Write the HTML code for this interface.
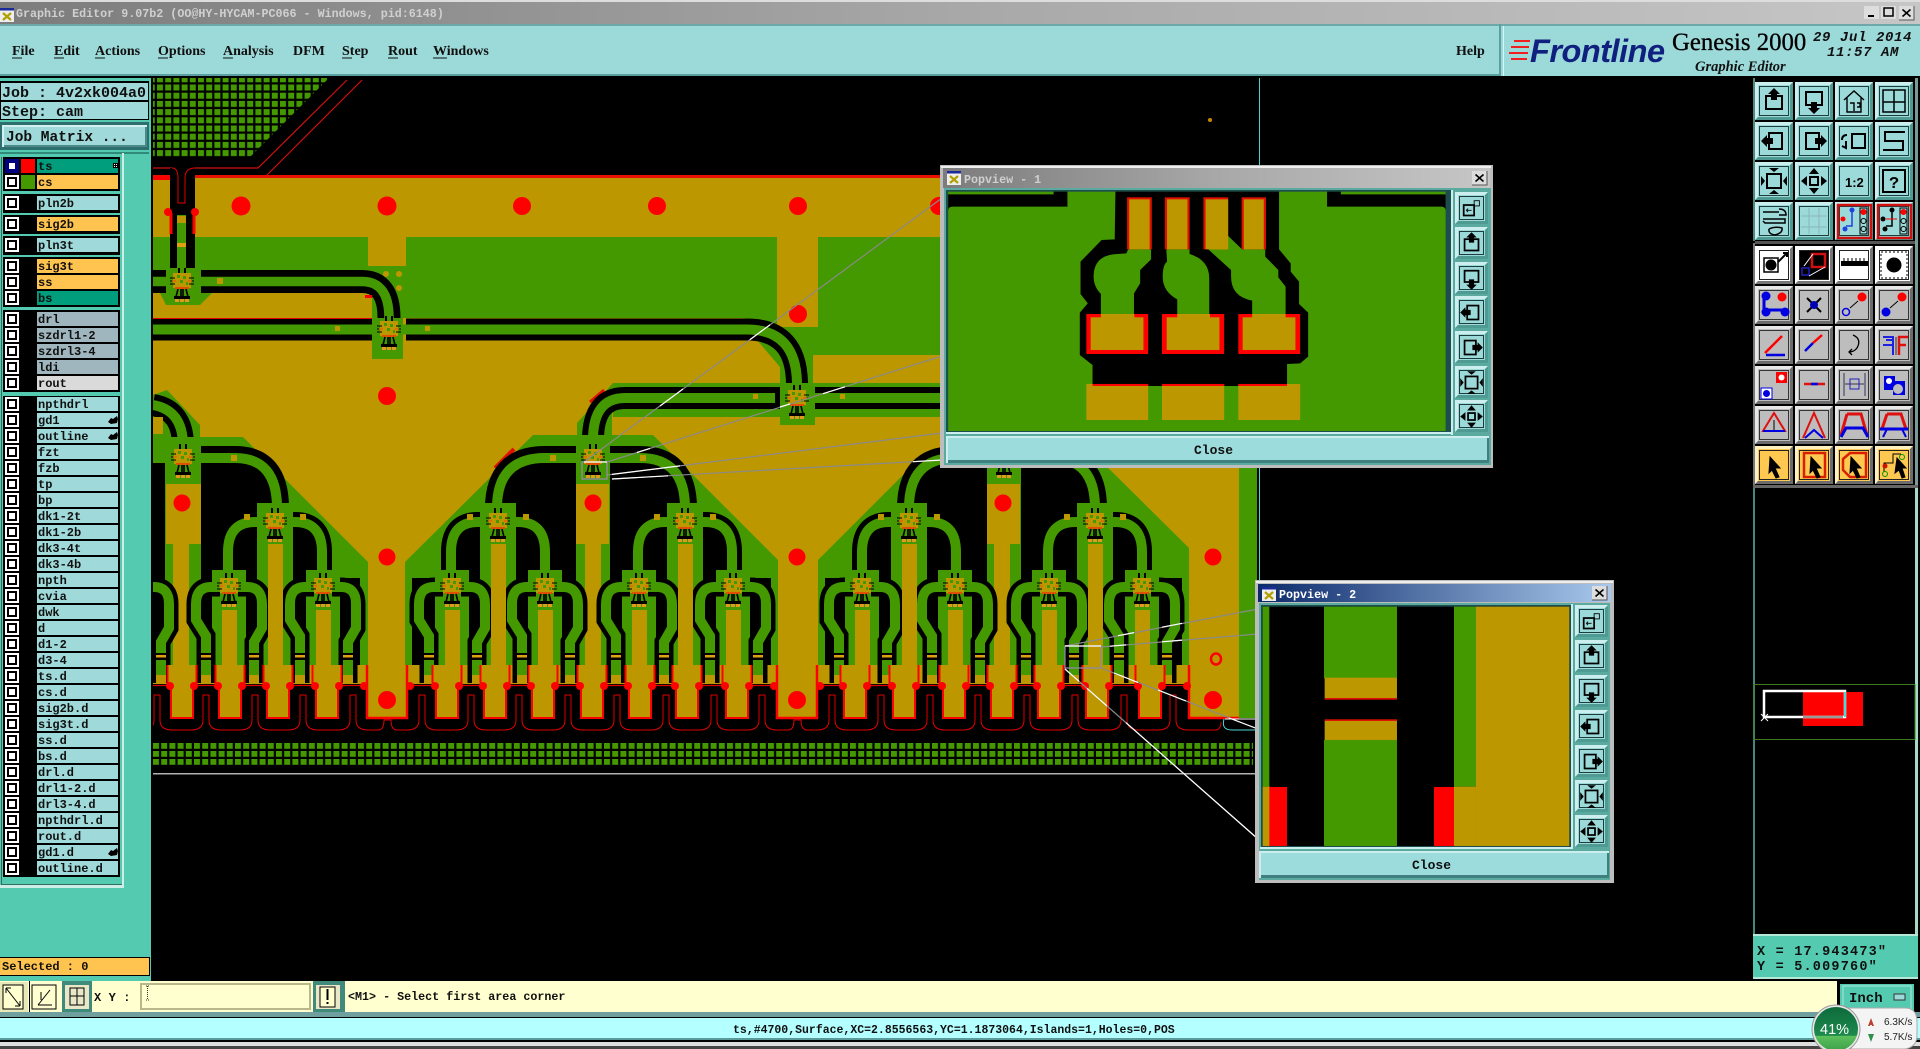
<!DOCTYPE html>
<html><head><meta charset="utf-8"><title>Genesis 2000 Graphic Editor</title>
<style>
html,body{margin:0;padding:0;background:#000;width:1920px;height:1049px;overflow:hidden}
svg{display:block}
.m{font:bold 12px "Liberation Mono",monospace;fill:#101010}
.j{font:bold 15px "Liberation Mono",monospace;fill:#101010}
.s{font:bold 14px "Liberation Serif",serif;fill:#101010}
</style></head><body>
<svg width="1920" height="1049" viewBox="0 0 1920 1049">
<defs>
<pattern id="gp" patternUnits="userSpaceOnUse" x="157" y="84.5" width="8.2" height="8.2"><rect width="6" height="6" fill="#449900"/></pattern>
<pattern id="gq" patternUnits="userSpaceOnUse" x="153" y="743" width="8.2" height="8"><rect width="6" height="5.800" fill="#449900"/></pattern>
<clipPath id="bc"><rect x="153" y="78" width="1106" height="702"/></clipPath>
<linearGradient id="t1" x1="0" x2="1" y1="0" y2="0"><stop offset="0" stop-color="#7c7c7c"/><stop offset=".5" stop-color="#a8a8a8"/><stop offset="1" stop-color="#c6c6c6"/></linearGradient>
<linearGradient id="t2" x1="0" x2="1" y1="0" y2="0"><stop offset="0" stop-color="#0c2a6a"/><stop offset="1" stop-color="#a8c8ec"/></linearGradient>
<linearGradient id="wg" x1="0" x2="0" y1="0" y2="1"><stop offset="0" stop-color="#0e6a3c"/><stop offset=".65" stop-color="#1d8a4c"/><stop offset=".66" stop-color="#5cc05c"/><stop offset="1" stop-color="#3ca04a"/></linearGradient>
<g id="cb"><rect x="5" y="-7" width="14" height="14" fill="#fff"/><rect x="7" y="-5" width="10" height="10" fill="#000"/><rect x="9" y="-3" width="6" height="6" fill="#fff"/></g>
<g id="rL"><use href="#cb"/><rect x="37" y="-7" width="81" height="14" fill="#9fd9d9"/></g>
<g id="rO"><use href="#cb"/><rect x="37" y="-7" width="81" height="14" fill="#ffc44f"/></g>
<g id="rD"><use href="#cb"/><rect x="37" y="-7" width="81" height="14" fill="#009e7c"/></g>
<g id="rG"><use href="#cb"/><rect x="37" y="-7" width="81" height="14" fill="#a0b6be"/></g>
<g id="rW"><use href="#cb"/><rect x="37" y="-7" width="81" height="14" fill="#dadada"/></g>
<path id="hand" d="M0 6 L3 2 L5 3 L9 0 L10 3 L9 7 L3 8Z" fill="#000"/>
<g id="c">
<rect x="-9" y="-9" width="18" height="15" fill="#bd9700"/>
<rect x="-5" y="-7" width="3" height="3" fill="#449900"/><rect x="1" y="-6" width="3" height="3" fill="#449900"/><rect x="-2" y="-2" width="3" height="3" fill="#449900"/><rect x="4" y="0" width="2" height="3" fill="#449900"/>
<path d="M-3-14V-9M3-14V-9" stroke="#000" stroke-width="2"/>
<path d="M-12-4H-7M-12-1H-7M-12 2H-7M7-4H12M7-1H12M7 2H12" stroke="#000" stroke-width="1"/>
<path d="M-10-1H-6M6-1H10" stroke="#ff4a00" stroke-width="1"/>
<rect x="-7" y="5" width="14" height="2" fill="#e05000"/>
<path d="M-6 15L-4 7M-1 15V7M1 15V7M6 15L4 7M-6 16H6" stroke="#000" stroke-width="1.6" fill="none"/>
<rect x="-8" y="14" width="16" height="3" fill="#000"/>
<rect x="-7" y="17" width="4" height="3" fill="#e09a20"/><rect x="-2" y="17" width="4" height="3" fill="#e09a20"/><rect x="3" y="17" width="4" height="3" fill="#e09a20"/>
</g>
<g id="T3">
<rect x="-17" y="570" width="34" height="95" fill="#449900"/>
<path d="M-9 587H-18Q-33 587-33 604V620L-23 636V683M9 587H18Q33 587 33 604V628L25 642V683" fill="none" stroke="#000" stroke-width="19"/>
<path d="M-9 587H-18Q-33 587-33 604V620L-23 636V683M9 587H18Q33 587 33 604V628L25 642V683" fill="none" stroke="#449900" stroke-width="10"/>
<path d="M-28 653h10v7h-10zM20 653h10v7h-10z" fill="#000"/><path d="M-28 655h10v2.500h-10zM20 655h10v2.500h-10z" fill="#e0a010"/>
<path d="M-28 675h10v8h-10zM20 675h10v8h-10z" fill="#bd9700"/>
<rect x="-17" y="570" width="34" height="14" fill="#449900"/>
<use href="#c" y="587"/>
</g>
<g id="T2">
<path d="M-15 522H-20Q-47 522-47 552V578H-15ZM15 522H20Q47 522 47 552V578H15Z" fill="#000" stroke="#000" stroke-width="20"/>
<rect x="-18" y="503" width="36" height="162" fill="#449900"/>
<path d="M-12 522H-20Q-47 522-47 552V578M12 522H20Q47 522 47 552V578" fill="none" stroke="#449900" stroke-width="10"/>
<rect x="-31" y="514" width="6" height="6" fill="#bd9700"/><rect x="25" y="514" width="6" height="6" fill="#bd9700"/>
<use href="#c" y="522"/>
</g>
<g id="tr">
<path d="M-14.500 665H14.500V686H11V717H-11V686H-14.500Z" fill="#bd9700"/>
<path d="M-14.500 665V686H-11V718H11V686H14.500V665" fill="none" stroke="#f00" stroke-width="2"/>
<circle cx="-12" cy="686" r="4" fill="#f00"/><circle cx="12" cy="686" r="4" fill="#f00"/>
</g>
<g id="vt">
<path d="M-20 665H20V718H-20Z" fill="#bd9700"/>
<path d="M-20 665V718H20V665" fill="none" stroke="#f00" stroke-width="2.500"/>
<circle cx="-23" cy="686" r="4" fill="#f00"/><circle cx="23" cy="686" r="4" fill="#f00"/>
<circle cy="700" r="9" fill="#f00"/><circle cy="557" r="8.500" fill="#f00"/>
</g>
<g id="u"><rect x="-14" y="726" width="28" height="6" fill="#000"/><path d="M-15 730Q-3 730-3 720V695H3V720Q3 730 15 730" fill="none" stroke="#e00000" stroke-width="1"/></g>
<g id="bT"><rect width="38" height="38" fill="#4f9a92"/><path d="M0 0H38L35 3H3V35L0 38Z" fill="#cdeeee"/><rect x="3" y="3" width="32" height="32" fill="#9cd9d9"/><rect x="4.500" y="4.500" width="29" height="29" fill="none" stroke="#1d3d3d" stroke-width="1"/></g>
<g id="bG"><rect width="38" height="38" fill="#6c6c6c"/><path d="M0 0H38L35 3H3V35L0 38Z" fill="#e8e8e8"/><rect x="3" y="3" width="32" height="32" fill="#bdbdbd"/><rect x="4.500" y="4.500" width="29" height="29" fill="none" stroke="#333" stroke-width="1"/></g>
<g id="bW"><rect width="38" height="38" fill="#777"/><path d="M0 0H38L35 3H3V35L0 38Z" fill="#fff"/><rect x="3" y="3" width="32" height="32" fill="#fff"/><rect x="4.500" y="4.500" width="29" height="29" fill="none" stroke="#222" stroke-width="1"/></g>
<g id="bO"><rect width="38" height="38" fill="#6c6c6c"/><path d="M0 0H38L35 3H3V35L0 38Z" fill="#fff0c0"/><rect x="3" y="3" width="32" height="32" fill="#ffc850"/><rect x="4.500" y="4.500" width="29" height="29" fill="none" stroke="#222" stroke-width="1"/></g>
<g id="iU"><rect x="11" y="14" width="16" height="13" fill="none" stroke="#000" stroke-width="2"/><path d="M19 6L25 12H22V18H16V12H13Z"/></g>
<g id="iD"><rect x="11" y="10" width="16" height="13" fill="none" stroke="#000" stroke-width="2"/><path d="M19 32L13 26H16V20H22V26H25Z"/></g>
<g id="iL"><rect x="14" y="11" width="13" height="16" fill="none" stroke="#000" stroke-width="2"/><path d="M6 19L12 13V16H18V22H12V25Z"/></g>
<g id="iR"><rect x="11" y="11" width="13" height="16" fill="none" stroke="#000" stroke-width="2"/><path d="M32 19L26 13V16H20V22H26V25Z"/></g>
<g id="iF"><rect x="12" y="12" width="14" height="14" fill="none" stroke="#000" stroke-width="2"/><path d="M19 10L14 6H24ZM19 28L14 32H24ZM10 19L6 14V24ZM28 19L32 14V24Z"/></g>
<g id="iP"><rect x="15" y="15" width="8" height="8" fill="none" stroke="#000" stroke-width="2"/><path d="M19 6L14 12H24ZM19 32L14 26H24ZM6 19L12 14V24ZM32 19L26 14V24Z"/></g>
<g id="iX"><rect x="10" y="15" width="12" height="12" fill="none" stroke="#000" stroke-width="2"/><rect x="22" y="10" width="6" height="6" fill="none" stroke="#000"/><path d="M13 21H19M13 21L15 19M13 21L15 23" stroke="#000" fill="none"/></g>
<g id="pb"><rect width="33" height="32" fill="#4f9a92"/><path d="M0 0H33L30 3H3V29L0 32Z" fill="#cdeeee"/><rect x="3" y="3" width="27" height="26" fill="#9cd9d9"/><rect x="4.500" y="4.500" width="24" height="23" fill="none" stroke="#1d3d3d"/></g>
<g id="xb"><rect width="15" height="14" fill="#ddd"/><path d="M15 0V14H0" fill="none" stroke="#555"/><path d="M3.500 3.500L11.500 10.500M11.500 3.500L3.500 10.500" stroke="#000" stroke-width="1.600"/></g>
<g id="wi"><rect width="14" height="14" fill="#eee"/><rect width="14" height="2.500" fill="#1a2a9a"/><path d="M3 5L11 12M11 5L3 12" stroke="#b0a000" stroke-width="2.200"/></g>
</defs>

<!-- window chrome -->
<rect width="1920" height="1049" fill="#000"/>
<rect width="1920" height="2" fill="#ddd"/>
<rect y="2" width="1920" height="22" fill="url(#t1)"/>
<use href="#wi" x="0" y="8"/>
<text x="16" y="17" style="font:bold 11.700px 'Liberation Mono',monospace" fill="#d0d0d0">Graphic Editor 9.07b2 (OO@HY-HYCAM-PC066 - Windows, pid:6148)</text>
<rect x="1864" y="6" width="15" height="13" fill="#ddd"/><rect x="1868" y="15" width="6" height="2" fill="#000"/>
<rect x="1881" y="6" width="15" height="13" fill="#ddd"/><rect x="1884" y="8" width="9" height="8" fill="none" stroke="#000" stroke-width="1.500"/>
<use href="#xb" x="1899" y="6"/>
<rect y="24" width="1920" height="2" fill="#6fa8a8"/>
<rect y="26" width="1920" height="50" fill="#9cd9d9"/>
<rect y="74" width="1500" height="2" fill="#5aa0a0"/>
<rect x="1499" y="24" width="2" height="52" fill="#5aa0a0"/><rect x="1503" y="26" width="1" height="52" fill="#d8f4f4"/>
<rect y="76" width="1920" height="2" fill="#000"/>
<g>
<text class="s" x="12" y="55">File</text><text class="s" x="54" y="55">Edit</text><text class="s" x="95" y="55">Actions</text><text class="s" x="158" y="55">Options</text><text class="s" x="223" y="55">Analysis</text><text class="s" x="293" y="55">DFM</text><text class="s" x="342" y="55">Step</text><text class="s" x="388" y="55">Rout</text><text class="s" x="433" y="55">Windows</text><text class="s" x="1456" y="55">Help</text>
</g>
<path d="M12 58h10M54 58h10M95 58h10M158 58h10M223 58h10M342 58h10M388 58h10M433 58h14" stroke="#111" stroke-width="1"/>
<!-- logo -->
<path d="M1514 41H1530M1511 47H1529M1509 53H1528M1511 59H1527" stroke="#f02020" stroke-width="2"/>
<text x="1530" y="62" style="font:italic bold 32.500px 'Liberation Sans',sans-serif;letter-spacing:-.5px" fill="#10207e">Frontline</text>
<text x="1672" y="50" style="font:24.800px 'Liberation Serif',serif;stroke:#000;stroke-width:.3px" fill="#000">Genesis 2000</text>
<text x="1695" y="71" style="font:italic bold 14.500px 'Liberation Serif',serif" fill="#111">Graphic Editor</text>
<text x="1813" y="41" style="font:italic bold 14px 'Liberation Mono',monospace;letter-spacing:.6px" fill="#111">29 Jul 2014</text>
<text x="1827" y="56" style="font:italic bold 14px 'Liberation Mono',monospace;letter-spacing:.6px" fill="#111">11:57 AM</text>

<!-- left panel -->
<rect x="0" y="78" width="151" height="903" fill="#54cbb0"/>
<rect x="151" y="78" width="2" height="904" fill="#000"/>
<rect x="0" y="81" width="149" height="20" fill="#000"/><rect x="1" y="83" width="147" height="17" fill="#9fd9d9"/>
<rect x="0" y="101" width="149" height="19" fill="#000"/><rect x="1" y="102" width="147" height="17" fill="#9fd9d9"/>
<text class="j" x="2" y="97">Job : 4v2xk004a0</text><text class="j" x="2" y="116">Step: cam</text>
<rect x="0" y="122" width="149" height="28" fill="#2d6f6f"/><rect x="2" y="125" width="145" height="22" fill="#d4f0f0"/><rect x="4" y="127" width="141" height="19" fill="#9fd9d9"/><path d="M4 146H146V127" fill="none" stroke="#4c8a8a" stroke-width="2"/>
<text x="6" y="141" style="font:bold 14.500px 'Liberation Mono',monospace" fill="#101010">Job Matrix ...</text>
<path d="M1 152H149V155H124V887H1Z" fill="#54cbb0"/><rect x="0" y="152" width="149" height="2" fill="#2f8a7a"/>
<rect x="122" y="153" width="2" height="734" fill="#cdeee6"/><rect x="0" y="885" width="124" height="3" fill="#cdeee6"/><rect x="1" y="157" width="121" height="727" fill="#54cbb0"/><rect x="1" y="157" width="1" height="727" fill="#2f6f5f"/><rect x="1" y="884" width="121" height="1" fill="#2f6f5f"/>
<g fill="#000"><rect x="3" y="157" width="117" height="34"/><rect x="3" y="194" width="117" height="19"/><rect x="3" y="215" width="117" height="19"/><rect x="3" y="236" width="117" height="19"/><rect x="3" y="257" width="117" height="50"/><rect x="3" y="310" width="117" height="82"/><rect x="3" y="396" width="117" height="481"/></g>
<use href="#rD" y="166"/><rect x="5" y="159" width="14" height="14" fill="#000080"/><rect x="9" y="163" width="6" height="6" fill="#fff"/><rect x="21" y="159" width="14" height="14" fill="#f00"/><text class="m" x="38" y="170">ts</text><rect x="113" y="163" width="5" height="5" fill="#000"/><rect x="114" y="164" width="1" height="1" fill="#fff"/><rect x="116" y="164" width="1" height="1" fill="#fff"/><rect x="114" y="166" width="1" height="1" fill="#fff"/><rect x="116" y="166" width="1" height="1" fill="#fff"/>
<use href="#rO" y="182"/><rect x="21" y="175" width="14" height="14" fill="#449900"/><text class="m" x="38" y="186">cs</text>
<use href="#rL" y="203"/><text class="m" x="38" y="207">pln2b</text>
<use href="#rO" y="224"/><text class="m" x="38" y="228">sig2b</text>
<use href="#rL" y="245"/><text class="m" x="38" y="249">pln3t</text>
<use href="#rO" y="266"/><text class="m" x="38" y="270">sig3t</text>
<use href="#rO" y="282"/><text class="m" x="38" y="286">ss</text>
<use href="#rD" y="298"/><text class="m" x="38" y="302">bs</text>
<use href="#rG" y="319"/><text class="m" x="38" y="323">drl</text>
<use href="#rG" y="335"/><text class="m" x="38" y="339">szdrl1-2</text>
<use href="#rG" y="351"/><text class="m" x="38" y="355">szdrl3-4</text>
<use href="#rG" y="367"/><text class="m" x="38" y="371">ldi</text>
<use href="#rW" y="383"/><text class="m" x="38" y="387">rout</text>
<use href="#rL" y="404"/><text class="m" x="38" y="408">npthdrl</text>
<use href="#rL" y="420"/><text class="m" x="38" y="424">gd1</text><use href="#hand" x="108" y="416"/>
<use href="#rL" y="436"/><text class="m" x="38" y="440">outline</text><use href="#hand" x="108" y="432"/>
<use href="#rL" y="452"/><text class="m" x="38" y="456">fzt</text>
<use href="#rL" y="468"/><text class="m" x="38" y="472">fzb</text>
<use href="#rL" y="484"/><text class="m" x="38" y="488">tp</text>
<use href="#rL" y="500"/><text class="m" x="38" y="504">bp</text>
<use href="#rL" y="516"/><text class="m" x="38" y="520">dk1-2t</text>
<use href="#rL" y="532"/><text class="m" x="38" y="536">dk1-2b</text>
<use href="#rL" y="548"/><text class="m" x="38" y="552">dk3-4t</text>
<use href="#rL" y="564"/><text class="m" x="38" y="568">dk3-4b</text>
<use href="#rL" y="580"/><text class="m" x="38" y="584">npth</text>
<use href="#rL" y="596"/><text class="m" x="38" y="600">cvia</text>
<use href="#rL" y="612"/><text class="m" x="38" y="616">dwk</text>
<use href="#rL" y="628"/><text class="m" x="38" y="632">d</text>
<use href="#rL" y="644"/><text class="m" x="38" y="648">d1-2</text>
<use href="#rL" y="660"/><text class="m" x="38" y="664">d3-4</text>
<use href="#rL" y="676"/><text class="m" x="38" y="680">ts.d</text>
<use href="#rL" y="692"/><text class="m" x="38" y="696">cs.d</text>
<use href="#rL" y="708"/><text class="m" x="38" y="712">sig2b.d</text>
<use href="#rL" y="724"/><text class="m" x="38" y="728">sig3t.d</text>
<use href="#rL" y="740"/><text class="m" x="38" y="744">ss.d</text>
<use href="#rL" y="756"/><text class="m" x="38" y="760">bs.d</text>
<use href="#rL" y="772"/><text class="m" x="38" y="776">drl.d</text>
<use href="#rL" y="788"/><text class="m" x="38" y="792">drl1-2.d</text>
<use href="#rL" y="804"/><text class="m" x="38" y="808">drl3-4.d</text>
<use href="#rL" y="820"/><text class="m" x="38" y="824">npthdrl.d</text>
<use href="#rL" y="836"/><text class="m" x="38" y="840">rout.d</text>
<use href="#rL" y="852"/><text class="m" x="38" y="856">gd1.d</text><use href="#hand" x="108" y="848"/>
<use href="#rL" y="868"/><text class="m" x="38" y="872">outline.d</text>
<rect x="0" y="957" width="150" height="19" fill="#000"/><rect x="0" y="958" width="149" height="17" fill="#ffc44f"/>
<text x="2" y="970" style="font:bold 12px 'Liberation Mono',monospace" fill="#101010">Selected : 0</text>

<!-- board -->
<g clip-path="url(#bc)">
<polygon points="153,78 329,78 249,158 153,158" fill="url(#gp)"/>
<path d="M347 80L258 168H195M153 168H172" fill="none" stroke="#d01010" stroke-width="1.200"/>
<path d="M362 80L265 177" stroke="#d01010" stroke-width="1.200"/>
<rect x="153" y="178" width="1086" height="541" fill="#bd9700"/>
<rect x="1239" y="178" width="18" height="541" fill="#449900"/>
<rect x="153" y="175" width="1086" height="3" fill="#e81000"/>
<!-- top vias -->
<g fill="#f00"><circle cx="241" cy="206" r="9.500"/><circle cx="387" cy="206" r="9.500"/><circle cx="522" cy="206" r="9"/><circle cx="657" cy="206" r="9"/><circle cx="798" cy="206" r="9"/><circle cx="939" cy="206" r="9"/><circle cx="798" cy="314" r="9"/></g>
<!-- upper green -->
<polygon fill="#449900" points="153,237 368,237 368,266 406,266 406,237 777,237 777,327 818,327 818,237 940,237 940,355 813,355 813,385 780,385 780,367 757,340 745,318 372,318 372,293 212,293 200,305 166,305 160,293 153,293"/>
<rect x="372" y="318" width="31" height="41" fill="#449900"/>
<!-- via entry -->
<rect x="170" y="168" width="25" height="100" fill="#000"/>
<rect x="153" y="176" width="17" height="4" fill="#f00"/>
<path d="M172 168Q178 168 178 178V203H185V178Q185 168 195 168" fill="none" stroke="#e00000"/>
<rect x="177" y="215" width="9" height="60" fill="#449900"/><rect x="177" y="216" width="9" height="7" fill="#bd9700"/><rect x="177" y="243" width="9" height="4" fill="#e0a010"/>
<path d="M171 213V234M194 213V234" stroke="#f00" stroke-width="3"/><circle cx="168" cy="212" r="4" fill="#f00"/><circle cx="195" cy="212" r="4" fill="#f00"/>
<path d="M201 281.500H362Q389 281.500 389 318" fill="none" stroke="#000" stroke-width="23"/>
<path d="M153 281.500H166" fill="none" stroke="#000" stroke-width="23"/>
<path d="M153 281.500H170M196 281.500H362Q389 281.500 389 318" fill="none" stroke="#449900" stroke-width="9.500"/>
<path d="M153 329.500H372M406 329.500H747Q797 329.500 797 385" fill="none" stroke="#000" stroke-width="22"/>
<path d="M153 329.500H376M402 329.500H747Q797 329.500 797 385" fill="none" stroke="#449900" stroke-width="10"/>
<rect x="153" y="318" width="219" height="1" fill="#e00000"/>
<rect x="365" y="295" width="7" height="3" fill="#f00"/>
<rect x="217" y="278" width="6" height="6" fill="#bd9700"/>
<g fill="#bd9700"><circle cx="386" cy="274" r="3"/><circle cx="399" cy="274" r="3"/><circle cx="399" cy="288" r="3"/><rect x="335" y="326" width="5" height="5"/><rect x="425" y="326" width="5" height="5"/></g>
<use href="#c" x="182" y="282"/><use href="#c" x="389" y="330"/>
<circle cx="387" cy="396" r="9" fill="#f00"/>
<!-- third line -->
<rect x="613" y="383" width="327" height="34" fill="#449900"/>
<polygon fill="#449900" points="613,383 577,423 577,445 612,445 612,415"/>
<rect x="780" y="383" width="35" height="42" fill="#449900"/>
<path d="M590 402L604 390" stroke="#e01000" stroke-width="3"/>
<path d="M815 398H940M780 398H625Q593 398 593 440" fill="none" stroke="#000" stroke-width="22"/>
<path d="M775 398H625Q593 398 593 440M810 398H940" fill="none" stroke="#449900" stroke-width="10"/>
<rect x="753" y="394" width="5" height="5" fill="#bd9700"/><rect x="840" y="394" width="5" height="5" fill="#bd9700"/>
<use href="#c" x="797" y="399"/>
<!-- far-left arc -->
<polygon fill="#449900" points="153,395 167,390 200,425 200,465 153,465"/>
<path d="M153 405Q183 410 183 446" fill="none" stroke="#000" stroke-width="22"/>
<path d="M153 405Q183 410 183 446" fill="none" stroke="#449900" stroke-width="10"/>
<rect x="153" y="417" width="10" height="17" fill="#bd9700"/>
<!-- modules -->
<polygon fill="#449900" points="153,437 243,437 368,562 368,665 153,665"/>
<polygon fill="#449900" points="405,665 405,562 533,435 653,435 778,560 778,665"/>
<polygon fill="#449900" points="818,665 818,560 920,458 1085,445 1189,548 1189,665"/>
<path d="M495 468L514 449" stroke="#e01000" stroke-width="4"/>
<path d="M153 462H166V665H153Z" fill="#000"/>
<rect x="205" y="578" width="155" height="87" fill="#000"/>
<rect x="412" y="578" width="359" height="87" fill="#000"/>
<rect x="825" y="578" width="357" height="87" fill="#000"/>
<path d="M193 458H235Q277 458 277 508V578H193Z" fill="#000" stroke="#000" stroke-width="24"/>
<path d="M577 458H545Q497 458 497 508V578H577ZM610 458H640Q685 458 685 508V578H610Z" fill="#000" stroke="#000" stroke-width="24"/>
<path d="M988 458H955Q909 458 909 508V578H988ZM1021 458H1051Q1095 458 1095 508V578H1021Z" fill="#000" stroke="#000" stroke-width="24"/>
<use href="#T2" x="275"/><use href="#T2" x="498"/><use href="#T2" x="685"/><use href="#T2" x="909"/><use href="#T2" x="1095"/>
<!-- T1 trunks -->
<g fill="#449900"><rect x="165" y="440" width="36" height="225"/><rect x="576" y="440" width="34" height="225"/><rect x="987" y="440" width="34" height="225"/></g>
<g fill="none" stroke="#449900" stroke-width="10"><path d="M193 458H235Q277 458 277 508"/><path d="M153 458H172"/><path d="M580 458H545Q497 458 497 508M606 458H640Q685 458 685 508"/><path d="M990 458H955Q909 458 909 508M1017 458H1051Q1095 458 1095 508"/></g>
<g fill="#bd9700"><rect x="231" y="455" width="6" height="6"/><rect x="550" y="455" width="6" height="6"/><rect x="640" y="455" width="6" height="6"/></g>
<g fill="#bd9700"><rect x="166" y="484" width="35" height="60"/><rect x="576" y="484" width="33" height="60"/><rect x="987" y="484" width="33" height="60"/><rect x="173" y="544" width="16" height="122"/><rect x="585" y="544" width="16" height="122"/><rect x="994" y="544" width="16" height="122"/></g>
<use href="#c" x="183" y="458"/><use href="#c" x="593" y="458"/><use href="#c" x="1004" y="458"/>
<g fill="#f00"><circle cx="182" cy="503" r="8.500"/><circle cx="593" cy="503" r="8.500"/><circle cx="1003" cy="503" r="8.500"/></g>
<!-- T3 -->
<use href="#T3" x="136"/><use href="#T3" x="229"/><use href="#T3" x="323"/><use href="#T3" x="452"/><use href="#T3" x="545"/><use href="#T3" x="639"/><use href="#T3" x="733"/><use href="#T3" x="862"/><use href="#T3" x="955"/><use href="#T3" x="1049"/><use href="#T3" x="1142"/>
<g fill="#bd9700"><rect x="222" y="610" width="15" height="56"/><rect x="316" y="610" width="15" height="56"/><rect x="445" y="610" width="15" height="56"/><rect x="538" y="610" width="15" height="56"/><rect x="632" y="610" width="15" height="56"/><rect x="726" y="610" width="15" height="56"/><rect x="855" y="610" width="15" height="56"/><rect x="948" y="610" width="15" height="56"/><rect x="1042" y="610" width="15" height="56"/><rect x="1135" y="610" width="15" height="56"/>
<rect x="268" y="544" width="15" height="122"/><rect x="491" y="544" width="15" height="122"/><rect x="678" y="544" width="15" height="122"/><rect x="902" y="544" width="15" height="122"/><rect x="1088" y="544" width="15" height="122"/></g>
<!-- orange V stems -->
<rect x="368" y="560" width="37" height="106" fill="#bd9700"/><rect x="778" y="560" width="40" height="106" fill="#bd9700"/>
<rect x="1189" y="548" width="50" height="171" fill="#bd9700"/>
<!-- comb -->
<rect x="153" y="684" width="1036" height="40" fill="#000"/>
<rect x="153" y="718" width="1104" height="62" fill="#000"/>
<path d="M153 685.500H1189" stroke="#e00000" stroke-width="1.200"/>
<use href="#tr" x="182"/><use href="#tr" x="230"/><use href="#tr" x="278"/><use href="#tr" x="327"/><use href="#tr" x="447"/><use href="#tr" x="495"/><use href="#tr" x="543"/><use href="#tr" x="592"/><use href="#tr" x="640"/><use href="#tr" x="687"/><use href="#tr" x="737"/><use href="#tr" x="855"/><use href="#tr" x="904"/><use href="#tr" x="954"/><use href="#tr" x="1002"/><use href="#tr" x="1049"/><use href="#tr" x="1097"/><use href="#tr" x="1150"/>
<use href="#vt" x="387"/><use href="#vt" x="797"/>
<path d="M1189 665V718H1239" fill="none" stroke="#f00" stroke-width="2.500"/><circle cx="1187" cy="686" r="4" fill="#f00"/>
<g fill="#f00"><circle cx="1213" cy="557" r="8.500"/><circle cx="1213" cy="700" r="9"/></g>
<ellipse cx="1216" cy="659" rx="5" ry="5.500" fill="#bd9700" stroke="#f00" stroke-width="2.500"/>
<path d="M153 730H1215Q1221 730 1221 722" fill="none" stroke="#e00000" stroke-width="1"/>
<use href="#u" x="157"/><use href="#u" x="206"/><use href="#u" x="255"/><use href="#u" x="303"/><use href="#u" x="353"/><use href="#u" x="422"/><use href="#u" x="471"/><use href="#u" x="519"/><use href="#u" x="568"/><use href="#u" x="617"/><use href="#u" x="666"/><use href="#u" x="714"/><use href="#u" x="762"/><use href="#u" x="832"/><use href="#u" x="881"/><use href="#u" x="930"/><use href="#u" x="978"/><use href="#u" x="1027"/><use href="#u" x="1075"/><use href="#u" x="1124"/><use href="#u" x="1173"/>
<g><rect x="379" y="726" width="18" height="6" fill="#000"/><path d="M378 730Q384 730 384 720H391Q391 730 397 730" fill="none" stroke="#e00000"/><rect x="789" y="726" width="18" height="6" fill="#000"/><path d="M788 730Q794 730 794 720H801Q801 730 807 730" fill="none" stroke="#e00000"/></g>
<rect x="153" y="743" width="1100" height="24" fill="url(#gq)"/>
<rect x="153" y="773" width="1104" height="1.500" fill="#b0b0b0"/>
<circle cx="1210" cy="120" r="2" fill="#c88a00"/>
</g>
<rect x="1259" y="78" width="1" height="510" fill="#3fd8d8"/>
<!-- selection rays -->
<g fill="none" stroke="#8a8a8a" stroke-width="1.200">
<path d="M584 462L942 198M607 462L942 356M607 475L942 433M612 479L942 460"/>
<rect x="582" y="462" width="25" height="17" stroke="#9a8ab0"/>
<path d="M1065 646L1258 609M1101 647L1258 634M1101 668L1258 729M1065 669L1258 839"/>
<path d="M1065 646H1101V668H1065Z" stroke="#8a8ab0"/>
</g>
<g fill="none" stroke="#fff" stroke-width="1.200">
<path d="M584 462H607M750 339.600L770 324.800M660 406L683 389M637 452.500L650 448.400M780 407L790 403.900M823 393.700L845 386.800M612 474.400L680 465.900M612 479L668 475.800M913 461.700L940 460.100"/>
<path d="M1065 646H1101M1118 635.700L1134 632.600M1162 627.200L1182 623.300M1110 646.200L1126 644.900M1162 641.800L1182 640.100M1114 673L1138 682.600M1158 690L1186 701M1229 718L1258 729M1065 669L1079 681.300M1087 688.400L1107 706M1126 722.700L1258 839"/>
</g>
<path d="M1224 719Q1221 730 1232 730H1255" fill="none" stroke="#4fd8d8" stroke-width="1"/>
<path d="M1225 719H1255" stroke="#fff" stroke-width="1"/>

<!-- right toolbars -->
<rect x="1753" y="78" width="164" height="407" fill="#000"/>
<rect x="1753" y="78" width="2" height="163" fill="#4f8a80"/><rect x="1753" y="243" width="2" height="242" fill="#777"/>
<rect x="1915" y="78" width="3" height="407" fill="#7a9a9a"/>
<use href="#bT" x="1755" y="82"/><use href="#iU" x="1755" y="82"/>
<use href="#bT" x="1795" y="82"/><use href="#iD" x="1795" y="82"/>
<use href="#bT" x="1835" y="82"/><path transform="translate(1835,82)" d="M9 18L19 9L29 18M12 16V30H26V16M15 21H19V29M22 21H25V25H22" fill="none" stroke="#000" stroke-width="1.400"/>
<use href="#bT" x="1875" y="82"/><path transform="translate(1875,82)" d="M8 8H30V30H8ZM19 8V30M8 20H30" fill="none" stroke="#000" stroke-width="1.500"/>
<use href="#bT" x="1755" y="122"/><use href="#iL" x="1755" y="122"/>
<use href="#bT" x="1795" y="122"/><use href="#iR" x="1795" y="122"/>
<use href="#bT" x="1835" y="122"/><path transform="translate(1835,122)" d="M17 12H30V26H17ZM12 13Q7 13 7 18M11 19V26L7 24" fill="none" stroke="#000" stroke-width="2"/>
<use href="#bT" x="1875" y="122"/><path transform="translate(1875,122)" d="M30 10H10V19H28V28H8" fill="none" stroke="#000" stroke-width="2"/>
<use href="#bT" x="1755" y="162"/><use href="#iF" x="1755" y="162"/>
<use href="#bT" x="1795" y="162"/><use href="#iP" x="1795" y="162"/>
<use href="#bT" x="1835" y="162"/><text x="1845" y="187" style="font:bold 13px 'Liberation Sans',sans-serif" fill="#000">1:2</text>
<use href="#bT" x="1875" y="162"/><rect x="1883" y="170" width="22" height="22" fill="none" stroke="#000" stroke-width="2"/><text x="1889" y="188" style="font:bold 17px 'Liberation Mono',monospace" fill="#000">?</text>
<use href="#bT" x="1755" y="202"/><path transform="translate(1755,202)" d="M8 10H24M24 7Q31 7 31 13H24M8 17H30V21H10L8 19M14 27Q20 24 27 26Q28 31 20 33Q13 32 14 27" fill="none" stroke="#000" stroke-width="1.500"/>
<use href="#bT" x="1795" y="202"/><path transform="translate(1795,202)" d="M6 14H32M6 25H32M14 6V32M24 6V32" stroke="#8ab8b8" stroke-width="1"/>
<use href="#bT" x="1835" y="202"/><rect x="1838" y="205" width="33" height="33" fill="none" stroke="#d01010" stroke-width="2.500"/><rect x="1860" y="208" width="7" height="26" fill="none" stroke="#000"/><circle cx="1863.500" cy="212" r="3" fill="#f00"/><circle cx="1863.500" cy="221" r="2.500" fill="none" stroke="#000"/><circle cx="1863.500" cy="229" r="2.500" fill="none" stroke="#000"/><path d="M1852 210V226H1846" fill="none" stroke="#2040e0" stroke-width="1.500"/><circle cx="1852" cy="210" r="2.500" fill="#2040e0"/><circle cx="1845" cy="229" r="2.500" fill="#2040e0"/><circle cx="1843" cy="219" r="2.500" fill="#f00"/>
<use href="#bT" x="1875" y="202"/><rect x="1878" y="205" width="33" height="33" fill="none" stroke="#d01010" stroke-width="2.500"/><rect x="1900" y="208" width="7" height="26" fill="none" stroke="#000"/><circle cx="1903.500" cy="212" r="3" fill="#f00"/><circle cx="1903.500" cy="221" r="2.500" fill="none" stroke="#000"/><circle cx="1903.500" cy="229" r="2.500" fill="none" stroke="#000"/><path d="M1892 210V226H1886" fill="none" stroke="#000" stroke-width="1.500"/><circle cx="1892" cy="210" r="2.500"/><circle cx="1885" cy="229" r="2.500"/><circle cx="1883" cy="219" r="2.500"/><path d="M1886 219H1897" stroke="#f00"/>
<rect x="1755" y="241" width="160" height="3" fill="#555"/>
<use href="#bW" x="1755" y="246"/><rect x="1764" y="258" width="14" height="14" fill="none" stroke="#000" stroke-width="1.500"/><circle cx="1771" cy="265" r="5.500" fill="#000"/><path d="M1778 262L1787 253M1783 253H1787V257" stroke="#000" stroke-width="2" fill="none"/>
<use href="#bW" x="1795" y="246"/><rect x="1800" y="251" width="28" height="28" fill="#000"/><rect x="1812" y="254" width="13" height="13" fill="none" stroke="#d01010" stroke-width="2.500"/><rect x="1802" y="268" width="7" height="7" fill="none" stroke="#2020c0" stroke-width="1.500"/><path d="M1804 266L1813 254M1809 276L1825 267" stroke="#fff"/>
<use href="#bW" x="1835" y="246"/><path d="M1841 261H1868V266H1841Z" fill="#000"/><path d="M1844 258V262M1848 258V262M1852 258V262M1856 258V262M1860 258V262M1864 258V262" stroke="#000"/>
<use href="#bW" x="1875" y="246"/><rect x="1881" y="252" width="26" height="26" fill="none" stroke="#000" stroke-dasharray="2 2"/><circle cx="1894" cy="265" r="7.500" fill="#000"/>
<use href="#bG" x="1755" y="286"/><path d="M1764 295V310H1784" fill="none" stroke="#0000e0" stroke-width="3"/><circle cx="1766" cy="296" r="4.500" fill="#0000e0"/><circle cx="1766" cy="312" r="4.500" fill="#0000e0"/><circle cx="1785" cy="312" r="4.500" fill="#0000e0"/><circle cx="1782" cy="297" r="4.500" fill="#f00"/>
<use href="#bG" x="1795" y="286"/><path d="M1807 298L1821 312M1821 298L1807 312" stroke="#000" stroke-width="2"/><circle cx="1814" cy="305" r="4" fill="#0000b0"/>
<use href="#bG" x="1835" y="286"/><circle cx="1862" cy="297" r="4.500" fill="#f00"/><circle cx="1846" cy="312" r="3.500" fill="none" stroke="#0000e0" stroke-width="1.500"/><path d="M1850 308L1858 301" stroke="#000"/>
<use href="#bG" x="1875" y="286"/><circle cx="1902" cy="297" r="4.500" fill="#f00"/><circle cx="1886" cy="312" r="4.500" fill="#0000e0"/><path d="M1890 308L1898 301" stroke="#000"/>
<use href="#bG" x="1755" y="326"/><path d="M1765 353L1782 336" stroke="#f00" stroke-width="2.500"/><path d="M1766 355H1785" stroke="#0000e0" stroke-width="2.500"/>
<use href="#bG" x="1795" y="326"/><path d="M1805 351L1813 343" stroke="#0000e0" stroke-width="2.500"/><path d="M1813 343L1822 335" stroke="#f00" stroke-width="2.500"/>
<use href="#bG" x="1835" y="326"/><path d="M1853 335Q1862 339 1857 348Q1854 352 1849 352M1852 349L1849 352L1852 355" fill="none" stroke="#000" stroke-width="1.300"/>
<use href="#bG" x="1875" y="326"/><path d="M1883 337H1893V340H1886M1883 345H1893M1893 337V355" fill="none" stroke="#2020e0" stroke-width="2"/><path d="M1896 337V355" stroke="#333"/><path d="M1908 337H1899V355M1899 345H1906" fill="none" stroke="#e01010" stroke-width="2.500"/>
<use href="#bG" x="1755" y="366"/><rect x="1776" y="372" width="11" height="11" fill="#f00"/><circle cx="1781.500" cy="377.500" r="3" fill="#fff"/><rect x="1761" y="388" width="11" height="11" fill="#fff" stroke="#0000e0"/><circle cx="1766.500" cy="393.500" r="3.500" fill="#0000e0"/>
<use href="#bG" x="1795" y="366"/><path d="M1804 384H1825" stroke="#e01010" stroke-width="2.500"/><path d="M1811 384H1818" stroke="#0000e0" stroke-width="2.500"/>
<use href="#bG" x="1835" y="366"/><path d="M1844 373V396M1865 373V396M1845 384H1864" stroke="#335" fill="none"/><rect x="1850" y="379" width="9" height="10" fill="none" stroke="#2020c0"/>
<use href="#bG" x="1875" y="366"/><path d="M1884 376H1895V381L1905 381V395H1893V390H1884Z" fill="#0000e0"/><circle cx="1889" cy="381" r="3" fill="#fff"/><circle cx="1898" cy="389" r="5" fill="#bdbdbd"/>
<use href="#bG" x="1755" y="406"/><path d="M1774 413L1763 431H1785Z" fill="none" stroke="#e01010" stroke-width="2"/><path d="M1763 431H1785" stroke="#0000e0" stroke-width="2"/><path d="M1774 430V420" stroke="#000"/>
<use href="#bG" x="1795" y="406"/><path d="M1803 438L1814 413L1825 438" fill="none" stroke="#e01010" stroke-width="2"/><path d="M1805 438L1814 430L1823 438" fill="none" stroke="#0000e0" stroke-width="2"/>
<use href="#bG" x="1835" y="406"/><path d="M1847 414H1861L1867 435M1847 414L1841 435" fill="none" stroke="#e01010" stroke-width="3"/><path d="M1841 437L1846 428H1863L1868 437" fill="none" stroke="#0000e0" stroke-width="3"/>
<use href="#bG" x="1875" y="406"/><path d="M1887 414H1901L1906 429M1887 414L1882 429" fill="none" stroke="#e01010" stroke-width="3"/><path d="M1880 429H1908" stroke="#0000e0" stroke-width="3"/><path d="M1883 437L1887 429M1906 437L1902 429" stroke="#0000e0" stroke-width="2"/>
<use href="#bO" x="1755" y="446"/><path d="M1770 457L1780 468L1775 468L1779 477L1776 478L1772 470L1769 473Z" stroke="#000"/>
<use href="#bO" x="1795" y="446"/><rect x="1804" y="453" width="21" height="24" fill="none" stroke="#d82000" stroke-width="2.500"/><path d="M1811 457L1821 468L1816 468L1820 477L1817 478L1813 470L1810 473Z" stroke="#000"/>
<use href="#bO" x="1835" y="446"/><path d="M1850 453H1866V477H1850L1843 470V459Z" fill="none" stroke="#d82000" stroke-width="2.500"/><path d="M1851 457L1861 468L1856 468L1860 477L1857 478L1853 470L1850 473Z" stroke="#000"/>
<use href="#bO" x="1875" y="446"/><path d="M1884 476V463H1893V454H1901" fill="none" stroke="#000"/><circle cx="1885" cy="466" r="2.500" fill="#d01000"/><circle cx="1885" cy="474" r="2.500" fill="#ffc850" stroke="#090"/><circle cx="1902" cy="457" r="2.500" fill="#ffc850" stroke="#090"/><path d="M1897 458L1906 468L1902 468L1905 477L1902 478L1899 470L1895 473Z" stroke="#000"/>
<rect x="1753" y="485" width="2" height="494" fill="#3f8a7a"/><rect x="1915" y="485" width="3" height="494" fill="#a8d8c8"/>
<rect x="1753" y="485" width="165" height="3" fill="#666"/>
<!-- navigator -->
<rect x="1754" y="684.500" width="161" height="55" fill="none" stroke="#3c7c1c"/>
<rect x="1803" y="692" width="60" height="34" fill="#f00"/>
<path d="M1764 691H1845V717H1764Z" fill="none" stroke="#fff" stroke-width="2.500"/>
<path d="M1845 692V717" stroke="#3ae0e0" stroke-width="2"/><path d="M1803 717H1843" stroke="#999" stroke-width="2.500"/>
<path d="M1761 714L1768 721M1768 714L1761 721" stroke="#fff"/>
<rect x="1753" y="934" width="165" height="45" fill="#54cbb0"/><rect x="1753" y="934" width="165" height="2" fill="#b5e8d8"/><rect x="1753" y="977" width="165" height="2" fill="#b5e8d8"/>
<text x="1757" y="955" style="font:bold 13.500px 'Liberation Mono',monospace;letter-spacing:1.200px" fill="#101010">X = 17.943473"</text>
<text x="1757" y="970" style="font:bold 13.500px 'Liberation Mono',monospace;letter-spacing:1.200px" fill="#101010">Y = 5.009760"</text>

<!-- popview 1 -->
<rect x="940" y="165" width="553" height="303" fill="#bdbdbd"/><rect x="941" y="166" width="550" height="2" fill="#eee"/>
<rect x="943" y="168" width="547" height="20" fill="url(#t1)"/>
<use href="#wi" x="947" y="171"/>
<text x="964" y="183" style="font:bold 11.700px 'Liberation Mono',monospace" fill="#d0d0d0">Popview - 1</text>
<use href="#xb" x="1472" y="171"/>
<rect x="944" y="188" width="547" height="277" fill="#5aaaa0"/>
<rect x="946" y="190" width="506" height="244" fill="#1d4d4d"/>
<rect x="1451" y="190" width="2" height="245" fill="#cdeeee"/><rect x="946" y="432" width="507" height="2" fill="#cdeeee"/>
<g transform="translate(930,160) scale(.3636,.3333)">
<rect x="50" y="95" width="1368" height="718" fill="#449900"/>
<path d="M50 103H340V95H378V140H62Q50 140 50 152ZM1092 95H1130V103H1418V152Q1418 140 1406 140H1092Z" fill="#000"/>
<polygon fill="#000" points="510,95 960,95 960,268 992,310 992,335 1015,365 1015,432 1040,458 1040,590 1018,610 982,612 982,678 447,678 447,615 412,585 412,458 434,430 414,402 414,305 472,240 508,238"/>
<path d="M540 280L545 268H608V298L578 330V370L561 400V462H470V402Q450 380 450 350Q450 285 515 282Z" fill="#449900"/>
<path d="M650 268H714V282Q768 300 768 355V462H680V418Q640 395 640 350Q640 315 652 305Z" fill="#449900"/>
<path d="M752 255L820 228L858 268H922V290L958 330V352L978 380V462H886V422Q828 410 828 350V330Z" fill="#449900"/>
<g fill="#e01000"><rect x="542" y="112" width="68" height="156"/><rect x="646" y="112" width="68" height="156"/><rect x="752" y="112" width="68" height="156"/><rect x="857" y="112" width="67" height="156"/></g>
<g fill="#bd9700"><rect x="548" y="118" width="56" height="150"/><rect x="652" y="118" width="56" height="150"/><rect x="758" y="118" width="62" height="150"/><rect x="863" y="118" width="55" height="150"/></g>
<polygon points="820,228 858,268 820,268" fill="#449900"/>
<polygon points="770,268 820,268 820,228" fill="#bd9700"/>
<g fill="#f00"><rect x="430" y="462" width="170" height="120"/><rect x="638" y="462" width="171" height="120"/><rect x="848" y="462" width="170" height="120"/></g>
<g fill="#bd9700"><rect x="442" y="472" width="145" height="98"/><rect x="470" y="462" width="92" height="12"/><rect x="651" y="472" width="145" height="98"/><rect x="680" y="462" width="90" height="12"/><rect x="860" y="472" width="145" height="98"/><rect x="886" y="462" width="92" height="12"/>
<rect x="430" y="672" width="170" height="108"/><rect x="638" y="672" width="171" height="108"/><rect x="848" y="672" width="170" height="108"/></g>
<g fill="#f00"><rect x="447" y="672" width="153" height="6"/><rect x="638" y="672" width="171" height="6"/><rect x="848" y="672" width="134" height="6"/></g>
</g>
<use href="#pb" x="1455" y="192"/><use href="#iX" transform="translate(1455,192) scale(.87)"/>
<use href="#pb" x="1455" y="227"/><use href="#iU" transform="translate(1455,227) scale(.87)"/>
<use href="#pb" x="1455" y="262"/><use href="#iD" transform="translate(1455,262) scale(.87)"/>
<use href="#pb" x="1455" y="296"/><use href="#iL" transform="translate(1455,296) scale(.87)"/>
<use href="#pb" x="1455" y="331"/><use href="#iR" transform="translate(1455,331) scale(.87)"/>
<use href="#pb" x="1455" y="366"/><use href="#iF" transform="translate(1455,366) scale(.87)"/>
<use href="#pb" x="1455" y="400"/><use href="#iP" transform="translate(1455,400) scale(.87)"/>
<rect x="946" y="436" width="543" height="27" fill="#cdeeee"/><rect x="948" y="438" width="541" height="25" fill="#3f7f7f"/><rect x="948" y="438" width="539" height="22" fill="#9cdcdc"/>
<text x="1194" y="454" style="font:bold 13px 'Liberation Mono',monospace" fill="#101010">Close</text>

<!-- popview 2 -->
<rect x="1255" y="580" width="359" height="303" fill="#bdbdbd"/><rect x="1256" y="581" width="357" height="2" fill="#eee"/>
<rect x="1258" y="584" width="353" height="18" fill="url(#t2)"/>
<use href="#wi" x="1262" y="587"/>
<text x="1279" y="598" style="font:bold 11.700px 'Liberation Mono',monospace" fill="#fff">Popview - 2</text>
<use href="#xb" x="1592" y="586"/>
<rect x="1259" y="603" width="351" height="277" fill="#5aaaa0"/>
<rect x="1261" y="605" width="311" height="243" fill="#1d4d4d"/>
<rect x="1571" y="604" width="2" height="245" fill="#cdeeee"/><rect x="1260" y="847" width="313" height="2" fill="#cdeeee"/>
<g transform="translate(1240,570) scale(.3333)">
<rect x="68" y="110" width="920" height="718" fill="#000"/>
<rect x="68" y="110" width="20" height="540" fill="#449900"/><rect x="68" y="650" width="22" height="178" fill="#bd9700"/><rect x="88" y="651" width="53" height="177" fill="#f00"/>
<rect x="252" y="110" width="219" height="215" fill="#449900"/><rect x="254" y="323" width="217" height="63" fill="#bd9700"/><rect x="254" y="384" width="217" height="5" fill="#e01000"/>
<rect x="254" y="448" width="217" height="6" fill="#e01000"/><rect x="254" y="453" width="217" height="57" fill="#bd9700"/><rect x="252" y="510" width="219" height="318" fill="#449900"/>
<rect x="642" y="110" width="66" height="540" fill="#449900"/><rect x="708" y="110" width="280" height="718" fill="#bd9700"/><rect x="642" y="650" width="66" height="178" fill="#bd9700"/><rect x="582" y="651" width="60" height="177" fill="#f00"/>
</g>
<use href="#pb" x="1575" y="605"/><use href="#iX" transform="translate(1575,605) scale(.87)"/>
<use href="#pb" x="1575" y="640"/><use href="#iU" transform="translate(1575,640) scale(.87)"/>
<use href="#pb" x="1575" y="675"/><use href="#iD" transform="translate(1575,675) scale(.87)"/>
<use href="#pb" x="1575" y="710"/><use href="#iL" transform="translate(1575,710) scale(.87)"/>
<use href="#pb" x="1575" y="745"/><use href="#iR" transform="translate(1575,745) scale(.87)"/>
<use href="#pb" x="1575" y="780"/><use href="#iF" transform="translate(1575,780) scale(.87)"/>
<use href="#pb" x="1575" y="815"/><use href="#iP" transform="translate(1575,815) scale(.87)"/>
<rect x="1259" y="851" width="350" height="27" fill="#cdeeee"/><rect x="1261" y="853" width="348" height="25" fill="#3f7f7f"/><rect x="1261" y="853" width="346" height="22" fill="#9cdcdc"/>
<text x="1412" y="869" style="font:bold 13px 'Liberation Mono',monospace" fill="#101010">Close</text>

<!-- command bar -->
<rect y="981" width="1838" height="31" fill="#ffffd0"/>
<rect x="0" y="982" width="28" height="30" fill="#e8e8b8"/><rect x="3" y="985" width="20" height="24" fill="#ffffd0" stroke="#000"/><path d="M6 988L20 1006M6 988V993M6 988H11M20 1006V1001M20 1006H15" stroke="#000" fill="none"/>
<rect x="29" y="981" width="1" height="31" fill="#000"/>
<rect x="32" y="985" width="24" height="24" fill="#ffffd0" stroke="#000"/><path d="M38 1005L50 990M38 1005H52M41 992V1000" stroke="#000" fill="none"/>
<rect x="62" y="981" width="30" height="31" fill="#3f8a7a"/><rect x="65" y="985" width="24" height="24" fill="#e8e8c8"/><path d="M70 988H84V1005H70ZM77 988V1005M70 996H84" fill="none" stroke="#000"/>
<text x="94" y="1001" style="font:bold 12px 'Liberation Mono',monospace;letter-spacing:.1px" fill="#101010">X Y :</text>
<rect x="140" y="983" width="171" height="27" fill="#b8b88a"/><rect x="142" y="985" width="167" height="23" fill="#ffffd0"/>
<path d="M146 986H149M147.500 986V1000M146 1000H149" stroke="#333" stroke-dasharray="1 1" fill="none"/>
<rect x="313" y="981" width="30" height="31" fill="#3f8a7a"/><rect x="316" y="985" width="24" height="24" fill="#e8e8c8"/><rect x="320" y="987" width="15" height="20" fill="#ffffd0" stroke="#000"/><rect x="326.500" y="989" width="2" height="11" fill="#000"/><rect x="326.500" y="1002" width="2" height="2" fill="#000"/>
<rect x="343" y="981" width="2" height="31" fill="#3f8a7a"/>
<text x="348" y="1000" style="font:bold 11.700px 'Liberation Mono',monospace" fill="#101010">&lt;M1&gt; - Select first area corner</text>
<rect x="1837" y="981" width="79" height="31" fill="#000"/><rect x="1840" y="984" width="74" height="28" fill="#54cbb0"/><rect x="1843" y="986" width="68" height="24" fill="#54cbb0" stroke="#a8e8d8"/>
<text x="1849" y="1002" style="font:bold 14px 'Liberation Mono',monospace" fill="#101010">Inch</text>
<rect x="1894" y="994" width="11" height="6" fill="#9cd9d9" stroke="#333"/>
<!-- status -->
<rect y="1012" width="1920" height="5" fill="#6f9f9f"/><rect y="1017" width="1920" height="1" fill="#000" opacity=".6"/>
<rect y="1018" width="1920" height="22" fill="#b4ffff"/><rect y="1038" width="1920" height="2" fill="#5a9a9a"/>
<text x="733" y="1033" style="font:bold 11.500px 'Liberation Mono',monospace" fill="#101010">ts,#4700,Surface,XC=2.8556563,YC=1.1873064,Islands=1,Holes=0,POS</text>
<rect y="1040" width="1920" height="2" fill="#000"/><rect y="1042" width="1920" height="4" fill="#ddd"/><rect y="1046" width="1920" height="3" fill="#444"/>
<!-- net widget -->
<path d="M1836 1008H1905Q1917 1008 1917 1022V1035Q1917 1047 1905 1049H1836Z" fill="#f4f4f4" stroke="#aaa"/>
<circle cx="1836" cy="1029" r="24" fill="#e8e8e8" stroke="#999"/><circle cx="1836" cy="1029" r="22" fill="url(#wg)"/>
<text x="1820" y="1034" style="font:14.500px 'Liberation Sans',sans-serif" fill="#fff">41%</text>
<path d="M1868 1026L1871 1018L1874 1026H1872V1025H1870V1026Z" fill="#c04030"/><path d="M1868 1034L1871 1042L1874 1034Z" fill="#30904a"/>
<text x="1884" y="1025" style="font:10px 'Liberation Sans',sans-serif" fill="#222">6.3K/s</text>
<text x="1884" y="1040" style="font:10px 'Liberation Sans',sans-serif" fill="#222">5.7K/s</text>
</svg>
</body></html>
